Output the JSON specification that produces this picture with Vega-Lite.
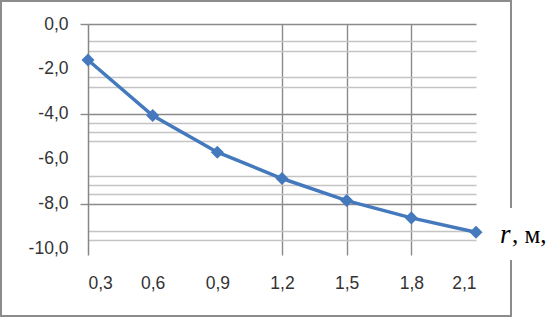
{
  "$schema": "https://vega.github.io/schema/vega-lite/v6.json",
  "autosize": "none",
  "padding": {"left": 88, "top": 24, "right": 73, "bottom": 63},
  "width": 388,
  "height": 231,
  "background": "white",
  "config": {"view": {"stroke": null}, "font": "Liberation Sans"},
  "data": {"values": [
    {"r": 0.3, "v": -1.6},
    {"r": 0.6, "v": -4.07},
    {"r": 0.9, "v": -5.7},
    {"r": 1.2, "v": -6.87},
    {"r": 1.5, "v": -7.85},
    {"r": 1.8, "v": -8.62},
    {"r": 2.1, "v": -9.26}
  ]},
  "encoding": {
    "x": {"field": "r", "type": "quantitative",
          "scale": {"domain": [0.3, 2.1], "nice": false, "zero": false},
          "axis": {
            "title": null,
            "values": [0.3, 0.6, 0.9, 1.2, 1.5, 1.8, 2.1],
            "domain": false, "ticks": false, "tickSize": 0,
            "labelPadding": 19,
            "labelFont": "Liberation Sans", "labelFontSize": 17.5, "labelColor": "#333333",
            "labelExpr": "replace(format(datum.value, '.1f'), '.', ',')",
            "grid": true, "gridColor": "#8a8a8a", "gridWidth": 1.4,
            "gridOpacity": {"condition": {"test": "datum.value > 1.1 && datum.value < 1.9", "value": 1}, "value": 0}
          }},
    "y": {"field": "v", "type": "quantitative",
          "scale": {"domain": [-10.27, 0], "nice": false, "zero": false},
          "axis": {
            "title": null,
            "values": [0, -0.77, -1.19, -2, -2.37, -2.79, -4, -4.39, -4.8, -5.21, -6, -6.74, -7.16, -7.57, -8, -9.19, -9.6, -10],
            "domain": true, "domainColor": "#868686", "domainWidth": 1.5,
            "ticks": true, "tickSize": 8, "tickColor": "#8a8a8a", "tickWidth": 1.4,
            "tickOpacity": {"condition": {"test": "datum.value == 0 || datum.value == -4 || datum.value == -8", "value": 1}, "value": 0},
            "labelPadding": 12,
            "labelFont": "Liberation Sans", "labelFontSize": 17.5, "labelColor": "#333333",
            "labelExpr": "abs(datum.value % 2) < 0.001 ? replace(replace(format(datum.value, '.1f'), '.', ','), '\u2212', '-') : ''",
            "grid": true, "gridWidth": 1.3,
            "gridColor": {"condition": {"test": "datum.value == 0 || datum.value == -4 || datum.value == -8", "value": "#8a8a8a"}, "value": "#c4c4c4"},
            "gridOpacity": {"condition": {"test": "datum.value == -2 || datum.value == -6 || datum.value == -10", "value": 0}, "value": 1}
          }}
  },
  "layer": [
    {
      "mark": {"type": "line", "color": "#4479bd", "strokeWidth": 3.5,
               "point": {"shape": "diamond", "size": 170, "filled": true, "color": "#4479bd"}}
    },
    {
      "mark": {"type": "rect", "fill": null, "stroke": "#8c8c8c", "strokeWidth": 2},
      "encoding": {
        "x": {"datum": -0.1036, "type": "quantitative", "scale": {"domain": [0.3, 2.1], "nice": false, "zero": false}},
        "x2": {"datum": 2.2624},
        "y": {"datum": 1.022, "type": "quantitative", "scale": {"domain": [-10.27, 0], "nice": false, "zero": false}},
        "y2": {"datum": -12.98}
      }
    },
    {
      "mark": {"type": "rect", "fill": "white", "stroke": null},
      "encoding": {
        "x": {"datum": 2.21, "type": "quantitative", "scale": {"domain": [0.3, 2.1], "nice": false, "zero": false}},
        "x2": {"datum": 2.31},
        "y": {"datum": -8.18, "type": "quantitative", "scale": {"domain": [-10.27, 0], "nice": false, "zero": false}},
        "y2": {"datum": -10.49}
      }
    },
    {
      "transform": [{"filter": "datum.r == 2.1"}],
      "mark": {"type": "text", "text": "r", "font": "Liberation Serif", "fontStyle": "italic",
               "fontSize": 27, "align": "left", "baseline": "alphabetic", "dx": 24, "dy": 11, "color": "black"}
    },
    {
      "transform": [{"filter": "datum.r == 2.1"}],
      "mark": {"type": "text", "text": ", м,", "font": "Liberation Serif",
               "fontSize": 25, "align": "left", "baseline": "alphabetic", "dx": 36, "dy": 11, "color": "black"}
    }
  ]
}
